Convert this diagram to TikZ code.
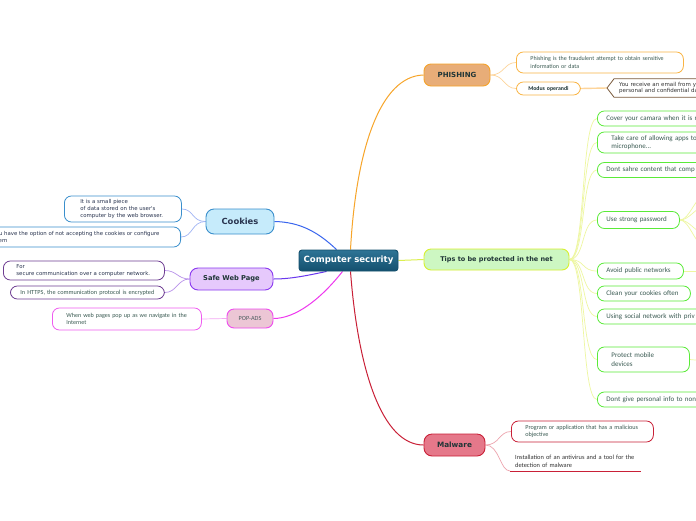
\documentclass[tikz,border=0pt]{standalone}
\usepackage{fontspec}
\setmainfont{Carlito}
\newfontfamily\dvs{DejaVu Sans}
\usetikzlibrary{backgrounds}
\definecolor{cCtrTop}{HTML}{2E7496}
\definecolor{cCtrBot}{HTML}{14506E}
\definecolor{cOrange}{HTML}{F7A52A}
\definecolor{cPhFill}{HTML}{E8AD78}
\definecolor{cPhB}{HTML}{F5A32A}
\definecolor{cPhChild}{HTML}{F9B444}
\definecolor{cPhLn}{HTML}{FDD49A}
\definecolor{cHexB}{HTML}{7A5A3C}
\definecolor{cTipsFill}{HTML}{CDF7C2}
\definecolor{cTipsB}{HTML}{D7F030}
\definecolor{cTipsLn}{HTML}{DCEF50}
\definecolor{cTipChildB}{HTML}{5AEB38}
\definecolor{cTipLn}{HTML}{EEF7A0}
\definecolor{cMalFill}{HTML}{E5788A}
\definecolor{cMalB}{HTML}{C92037}
\definecolor{cMalChildLn}{HTML}{EDA3AD}
\definecolor{cCkFill}{HTML}{C6EBFB}
\definecolor{cCkB}{HTML}{3A8FCC}
\definecolor{cCkLn}{HTML}{3A66EE}
\definecolor{cCkChildLn}{HTML}{A0B4F4}
\definecolor{cSwFill}{HTML}{E6C9FC}
\definecolor{cSwB}{HTML}{8A38F0}
\definecolor{cSwLn}{HTML}{6A38EE}
\definecolor{cSwChildB}{HTML}{6E3D92}
\definecolor{cSwChildLn}{HTML}{B890EA}
\definecolor{cPopFill}{HTML}{ECC6D5}
\definecolor{cPopB}{HTML}{EE4AEE}
\definecolor{cPopLn}{HTML}{EE38EE}
\definecolor{cPopChildB}{HTML}{EF5CF0}
\definecolor{cPopChildLn}{HTML}{F4A8F4}
\definecolor{cHead}{HTML}{1F3536}
\definecolor{cTxt}{HTML}{3A5A52}
\definecolor{cCkTxt}{HTML}{2A3550}
\tikzset{
  hd/.style={draw, line width=0.9pt, rounded corners=6pt, inner sep=0pt, align=center, text=cHead,
    font=\dvs\bfseries\fontsize{7}{8}\selectfont},
  ch/.style={draw, line width=0.8pt, rounded corners=7pt, inner ysep=0pt, align=left, fill=white,
    text=cTxt, font=\fontsize{6}{7.5}\selectfont, anchor=west},
  tipbox/.style={ch, draw=cTipChildB, font=\fontsize{7}{8.5}\selectfont},
  dvtext/.style={font=\dvs\fontsize{5.4}{6.6}\selectfont, text=cCkTxt},
  mainln/.style={line width=1pt},
  subln/.style={line width=0.7pt},
}
\begin{document}
\begin{tikzpicture}[x=1pt,y=-1pt]
\useasboundingbox (0,0) rectangle (696,520);

% ---------- main nodes
\node[hd, draw=cCtrBot, top color=cCtrTop, bottom color=cCtrBot, text=white, rounded corners=3pt,
  minimum width=99pt, minimum height=21pt, font=\dvs\bfseries\fontsize{8.6}{9}\selectfont] (cs) at (348.5,260.5) {Computer security};
\node[hd, draw=cPhB, fill=cPhFill, minimum width=66pt, minimum height=22pt, rounded corners=7pt] (ph) at (457,75) {PHISHING};
\node[hd, draw=cTipsB, fill=cTipsFill, minimum width=145pt, minimum height=21pt, rounded corners=7pt,
  font=\dvs\bfseries\fontsize{6.5}{8}\selectfont] (tips) at (496.5,259.5) {Tips to be protected in the net};
\node[hd, draw=cMalB, fill=cMalFill, minimum width=61pt, minimum height=22pt, rounded corners=8pt,
  font=\dvs\bfseries\fontsize{7.3}{8}\selectfont] (mal) at (454.5,445) {Malware};
\node[hd, draw=cCkB, fill=cCkFill, minimum width=68pt, minimum height=25pt, rounded corners=8pt,
  text=cCkTxt, font=\dvs\bfseries\fontsize{8.4}{9}\selectfont] (ck) at (240,221.5) {Cookies};
\node[hd, draw=cSwB, fill=cSwFill, minimum width=83pt, minimum height=22pt, rounded corners=8pt,
  font=\dvs\bfseries\fontsize{6.7}{8}\selectfont] (sw) at (231.5,279) {Safe Web Page};
\node[hd, draw=cPopB, fill=cPopFill, minimum width=46pt, minimum height=19pt, rounded corners=7pt,
  font=\fontsize{6.3}{8}\selectfont, text=cHead!80] (pop) at (250,318.5) {POP-ADS};

% ---------- phishing children
\node[ch, draw=cPhChild, minimum height=21pt, inner xsep=14pt, text width=139pt] (ph1) at (516,62.5)
  {\mbox{Phishing is the fraudulent attempt to obtain sensitive}\\\mbox{information or data}};
\node[ch, draw=cPhChild, minimum height=13pt, inner xsep=6pt, text width=52pt, align=center,
  font=\bfseries\fontsize{5.8}{7}\selectfont, text=cHead] (ph2) at (516,88.5) {\mbox{Modus operandi}};
\node[anchor=west, inner xsep=12pt, inner ysep=0pt, minimum height=18pt, text width=110pt, align=left,
  font=\dvs\fontsize{5.5}{6.6}\selectfont, text=black!80] (hex) at (607,88)
  {\mbox{You receive an email from y}\\\mbox{personal and confidential da}};
\coordinate (hexpt) at (607,88);
\draw[cHexB, line width=0.8pt] ([xshift=20pt]hex.north east) -- ([xshift=7pt]hex.north west) -- (hexpt)
  -- ([xshift=7pt]hex.south west) -- ([xshift=20pt]hex.south east);

% ---------- tips children
\node[tipbox, minimum height=15pt, inner xsep=9pt, text width=120pt] (t1) at (597,118.5) {\mbox{Cover your camara when it is n}};
\node[tipbox, minimum height=21pt, inner xsep=14pt, text width=110pt] (t2) at (597,142.5) {\mbox{Take care of allowing apps to}\\\mbox{microphone...}};
\node[tipbox, minimum height=15pt, inner xsep=9pt, text width=120pt] (t3) at (597,170) {\mbox{Dont sahre content that comp}};
\node[tipbox, minimum height=17pt, inner xsep=9pt, text width=64pt] (t4) at (597,220) {\mbox{Use strong password}};
\node[tipbox, minimum height=16pt, inner xsep=9pt, text width=68pt] (t5) at (597,271) {\mbox{Avoid public networks}};
\node[tipbox, minimum height=15pt, inner xsep=9pt, text width=75pt] (t6) at (597,293.5) {\mbox{Clean your cookies often}};
\node[tipbox, minimum height=15pt, inner xsep=9pt, text width=120pt] (t7) at (597,316.5) {\mbox{Using social network with priv}};
\node[tipbox, minimum height=25pt, inner xsep=14pt, text width=64pt] (t8) at (597,359.5) {\mbox{Protect mobile}\\\mbox{devices}};
\node[tipbox, minimum height=15pt, inner xsep=9pt, text width=120pt] (t9) at (597,399.5) {\mbox{Dont give personal info to non}};
\coordinate (t4a) at (705,196);
\coordinate (t4b) at (705,207);
\coordinate (t4c) at (705,233);
\coordinate (t4d) at (705,246);
\coordinate (t5a) at (705,271);
\coordinate (t8a) at (705,361);

% ---------- malware children
\node[ch, draw=cMalB, minimum height=21pt, inner xsep=14pt, text width=114pt, font=\fontsize{6.2}{7.5}\selectfont] (m1) at (511,431.5)
  {\mbox{Program or application that has a malicious}\\\mbox{objective}};
\node[anchor=south west, inner xsep=5pt, inner ysep=3pt, text width=121pt, align=left, text=black!80,
  font=\fontsize{6.4}{7.8}\selectfont] (m2) at (510,471)
  {\mbox{Installation of an antivirus and a tool for the}\\\mbox{detection of malware}};
\draw[cMalB, line width=1pt] (m2.south west) -- (m2.south east);

% ---------- cookies children
\node[ch, draw=cCkB, minimum height=26pt, inner xsep=16pt, text width=85pt, dvtext] (ck1) at (64,209)
  {\mbox{It is a small piece}\\\mbox{of data stored on the user's}\\\mbox{computer by the web browser.}};
\node[ch, draw=cCkB, minimum height=20pt, inner sep=0pt, minimum width=221pt, anchor=east] (ck2) at (181,237) {};
\node[anchor=west, inner sep=0pt, align=left, dvtext] (ck2t) at (-7,237)
  {\mbox{You have the option of not accepting the cookies or configure}\\\mbox{them}};

% ---------- safe web page children
\node[ch, draw=cSwChildB, minimum height=19pt, inner xsep=13pt, text width=135pt, dvtext] (sw1) at (3,270.5)
  {\mbox{For}\\\mbox{secure communication over a computer network.}};
\node[ch, draw=cSwChildB, minimum height=13pt, inner xsep=10pt, text width=134pt, font=\fontsize{6.25}{7}\selectfont] (sw2) at (10,292.5)
  {\mbox{In HTTPS, the communication protocol is encrypted}};

% ---------- pop-ads child
\node[ch, draw=cPopChildB, minimum height=22pt, inner xsep=14pt, text width=121pt, font=\fontsize{6.1}{7.5}\selectfont] (pop1) at (52,319)
  {\mbox{When web pages pop up as we navigate in the}\\\mbox{Internet}};

% ---------- connectors
\begin{pgfonlayer}{background}
\fill[white] (0,0) rectangle (696,520);
\draw[mainln, cOrange] ([xshift=2pt]cs.north) .. controls (356,150) and (380,76) .. (ph.west);
\draw[mainln, cTipsLn] (cs.east) -- (tips.west);
\draw[mainln, cMalB] ([xshift=2pt]cs.south) .. controls (358,370) and (382,445) .. (mal.west);
\draw[mainln, cCkLn] ([xshift=-12pt]cs.north) .. controls (318,232) and (300,222) .. (ck.east);
\draw[mainln, cSwLn] ([xshift=-22pt]cs.south) .. controls (305,276) and (290,279) .. (sw.east);
\draw[mainln, cPopLn] ([xshift=-6pt]cs.south) .. controls (320,300) and (295,318.5) .. (pop.east);

\foreach \c in {ph1,ph2}
  \draw[subln, cPhLn] (ph.east) .. controls +(14,0) and ([xshift=-12pt]\c.west) .. (\c.west);
\draw[line width=1.4pt, cPhLn] (ph2.east) -- (hexpt);

\foreach \c in {t1,t2,t3,t4,t5,t6,t7,t8,t9}
  \draw[subln, cTipLn] (tips.east) .. controls +(16,0) and ([xshift=-16pt]\c.west) .. (\c.west);
\foreach \c in {t4a,t4b,t4c,t4d}
  \draw[subln, cTipLn] (t4.east) .. controls +(10,0) and ([xshift=-10pt]\c) .. (\c);
\draw[subln, cTipLn] (t5.east) -- (t5a);
\draw[subln, cTipLn] (t8.east) -- (t8a);

\draw[subln, cMalChildLn] (mal.east) .. controls +(14,0) and ([xshift=-12pt]m1.west) .. (m1.west);
\draw[subln, cMalChildLn] (mal.east) .. controls +(14,0) and ([xshift=-10pt]m2.south west) .. (m2.south west);

\foreach \c in {ck1,ck2}
  \draw[subln, cCkChildLn] (ck.west) .. controls +(-14,0) and ([xshift=12pt]\c.east) .. (\c.east);
\foreach \c in {sw1,sw2}
  \draw[subln, cSwChildLn] (sw.west) .. controls +(-12,0) and ([xshift=12pt]\c.east) .. (\c.east);
\draw[subln, cPopChildLn] (pop.west) -- (pop1.east);
\end{pgfonlayer}
\end{tikzpicture}
\end{document}
